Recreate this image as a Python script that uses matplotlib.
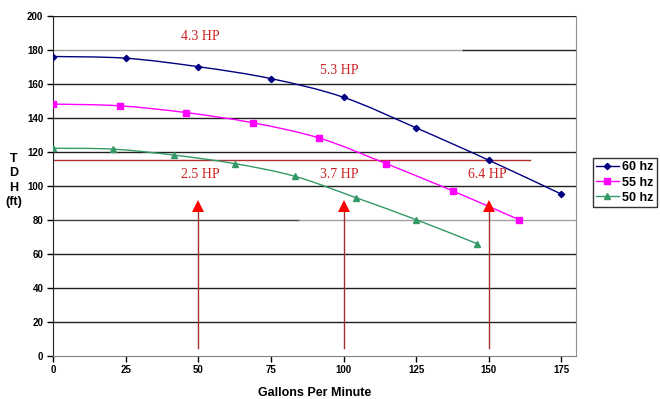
import matplotlib
matplotlib.use("Agg")
import matplotlib.pyplot as plt
from matplotlib.path import Path
from matplotlib.patches import PathPatch
from matplotlib.lines import Line2D
import numpy as np

# ---- data ----
gpm_60 = [0, 25, 50, 75, 100, 125, 150, 175]
tdh_60 = [176, 175, 170, 163, 152, 134, 115, 95]
gpm_55 = [0, 22.9, 45.8, 68.8, 91.7, 114.6, 137.5, 160.4]
tdh_55 = [148, 147, 143, 137, 128, 113, 97, 80]
gpm_50 = [0, 20.8, 41.7, 62.5, 83.3, 104.2, 125, 145.8]
tdh_50 = [122, 121.5, 118, 113, 105.5, 93, 80, 66]
series_labels = ["60 hz", "55 hz", "50 hz"]

op_head = 115          # horizontal operating line
op_line_end = 164
arrow_gpm = [50, 100, 150]
hp_labels = ["4.3 HP", "5.3 HP", "2.5 HP", "3.7 HP", "6.4 HP"]
hp_x = [50.7, 98.4, 50.7, 98.4, 149.6]
hp_y = [187.5, 167.5, 106.8, 106.8, 106.8]

x_ticks = [0, 25, 50, 75, 100, 125, 150, 175]
y_ticks = list(range(0, 201, 20))

colors = ["#000080", "#ff00ff", "#339966"]
markers = ["D", "s", "^"]
msizes = [3.2, 4.5, 4.2]

fig = plt.figure(figsize=(6.6, 3.99), dpi=100)
ax = fig.add_axes([53/660, 1-355.7/399, (576-53)/660, (355.7-15.7)/399])
ax.set_xlim(0, 180)
ax.set_ylim(0, 200)

# grid lines
for yv in y_ticks[1:]:
    if yv == 180:
        ax.axhline(yv, xmin=0, xmax=141/180, color="#a0a0a0", lw=1.0, zorder=1)
        ax.axhline(yv, xmin=141/180, xmax=1, color="#202020", lw=1.0, zorder=1)
    elif yv == 80:
        ax.axhline(yv, xmin=0, xmax=84.5/180, color="#404040", lw=1.0, zorder=1)
        ax.axhline(yv, xmin=84.5/180, xmax=1, color="#a0a0a0", lw=1.0, zorder=1)
    else:
        ax.axhline(yv, color="#202020", lw=1.0, zorder=1)


def smooth_path(xs, ys):
    xs = np.asarray(xs, float)
    ys = np.asarray(ys, float)
    n = len(xs)
    verts = [(xs[0], ys[0])]
    codes = [Path.MOVETO]
    t = 1/6
    for i in range(n - 1):
        p0 = np.array([xs[max(i-1, 0)], ys[max(i-1, 0)]])
        p1 = np.array([xs[i], ys[i]])
        p2 = np.array([xs[i+1], ys[i+1]])
        p3 = np.array([xs[min(i+2, n-1)], ys[min(i+2, n-1)]])
        c1 = p1 + (p2 - p0) * t
        c2 = p2 - (p3 - p1) * t
        verts += [tuple(c1), tuple(c2), tuple(p2)]
        codes += [Path.CURVE4] * 3
    return Path(verts, codes)


all_x = [gpm_60, gpm_55, gpm_50]
all_y = [tdh_60, tdh_55, tdh_50]
handles = []
for xs, ys, c, m, ms, lab in zip(all_x, all_y, colors, markers, msizes, series_labels):
    patch = PathPatch(smooth_path(xs, ys), facecolor="none", edgecolor=c, lw=1.0, zorder=3)
    ax.add_patch(patch)
    ax.plot(xs, ys, linestyle="none", marker=m, color=c, ms=ms, zorder=4)
    handles.append(Line2D([], [], color=c, marker=m, ms=ms, lw=1.0, label=lab))

# operating line
ax.plot([0, op_line_end], [op_head, op_head], color="#b03030", lw=1.0, zorder=2)

# arrows
for xa in arrow_gpm:
    ax.plot([xa, xa], [4.3, 86], color="#a03030", lw=1.0, zorder=2)
    ax.plot([xa], [88.3], marker="^", color="#ff0000", ms=8, zorder=5, markeredgewidth=0)

# HP labels
for t, xv, yv in zip(hp_labels, hp_x, hp_y):
    ax.text(xv, yv, t, color="#cc2020", fontsize=10, family="Liberation Serif",
            ha="center", va="center", zorder=6)

ax.set_xticks(x_ticks)
ax.set_yticks(y_ticks)
ax.tick_params(axis="both", direction="out", length=4, width=1, labelsize=7, pad=3)
for lbl in ax.get_xticklabels() + ax.get_yticklabels():
    lbl.set_fontweight("bold")
    lbl.set_family("Liberation Sans")

for s in ["top"]:
    ax.spines[s].set_visible(False)
ax.spines["right"].set_color("#909090")
ax.spines["bottom"].set_color("#808080")
ax.spines["left"].set_color("#202020")

ax.set_xlabel("Gallons Per Minute", fontsize=9, fontweight="bold", family="Liberation Sans", labelpad=8)

for t, yp in zip(["T", "D", "H", "(ft)"], [159, 173.5, 188, 202]):
    fig.text(14/660, 1-yp/399, t, fontsize=9, fontweight="bold", family="Liberation Sans",
             ha="center", va="center")

leg = fig.legend(handles=handles, loc="upper left", bbox_to_anchor=(593/660, 1-158.3/399),
                 frameon=True, fancybox=False, edgecolor="black", fontsize=9,
                 prop={"weight": "bold", "family": "Liberation Sans", "size": 9},
                 handlelength=1.8, handletextpad=0.3, borderpad=0.25, labelspacing=0.25,
                 borderaxespad=0)
leg.get_frame().set_linewidth(1.0)

fig.savefig("out.png", dpi=100)
